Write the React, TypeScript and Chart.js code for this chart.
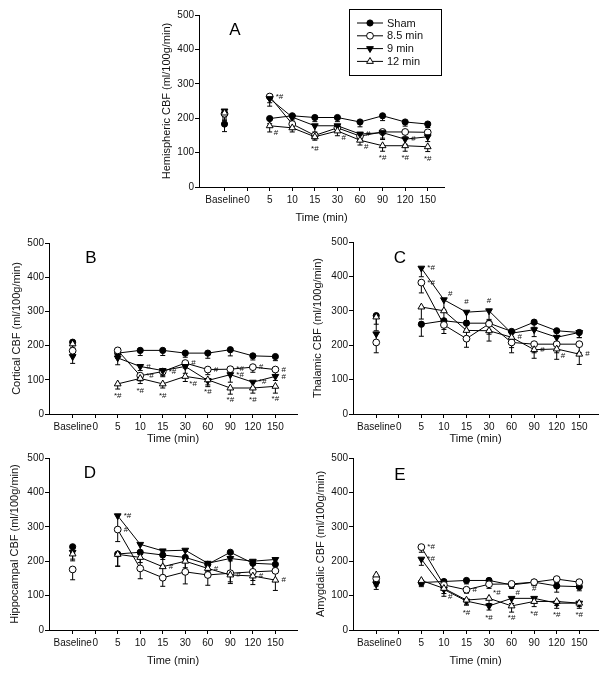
import React, { useEffect, useRef } from 'react';
import { Chart, registerables } from 'chart.js';

Chart.register(...registerables);

// ---------- DATA ----------
const xLabels = ['Baseline', '0', '5', '10', '15', '30', '60', '90', '120', '150'];
const seriesNames = ['Sham', '8.5 min', '9 min', '12 min'];

// Panel A – Hemispheric CBF
const aSham = [183, null, 199, 207, 202, 202, 189, 207, 189, 183];
const aM85 = [213, null, 263, 183, 150, 172, 148, 160, 160, 159];
const aM9 = [221, null, 257, 203, 178, 178, 154, 158, 139, 146];
const aM12 = [215, null, 178, 172, 146, 163, 136, 120, 120, 117];
const aShamErr = [22, null, 15, 12, 12, 12, 14, 14, 12, 10];
const aM85Err = [20, null, 18, 15, 10, 12, 10, 18, 14, 12];
const aM9Err = [20, null, 22, 14, 18, 16, 12, 20, 15, 14];
const aM12Err = [18, null, 18, 12, 10, 14, 14, 16, 16, 14];

// Panel B – Cortical CBF
const bSham = [210, null, 178, 186, 186, 178, 178, 188, 170, 168];
const bM85 = [185, null, 186, 112, 124, 149, 130, 131, 137, 130];
const bM9 = [168, null, 164, 139, 127, 139, 98, 115, 93, 110];
const bM12 = [205, null, 88, 104, 88, 110, 100, 76, 76, 81];
const bShamErr = [15, null, 15, 15, 15, 12, 15, 18, 12, 12];
const bM85Err = [15, null, 12, 15, 15, 15, 15, 12, 15, 15];
const bM9Err = [20, null, 20, 12, 15, 20, 18, 22, 15, 12];
const bM12Err = [15, null, 15, 15, 12, 15, 15, 18, 15, 20];

// Panel C – Thalamic CBF
const cSham = [286, null, 261, 271, 264, 264, 240, 267, 242, 237];
const cM85 = [208, null, 382, 259, 219, 262, 208, 203, 203, 203];
const cM9 = [233, null, 424, 332, 296, 300, 235, 245, 223, 237];
const cM12 = [282, null, 311, 300, 243, 242, 223, 187, 189, 174];
const cShamErr = [25, null, 35, 25, 20, 20, 15, 15, 15, 15];
const cM85Err = [30, null, 30, 25, 25, 30, 30, 25, 25, 25];
const cM9Err = [25, null, 25, 30, 25, 25, 20, 20, 20, 15];
const cM12Err = [40, null, 35, 30, 25, 30, 30, 25, 30, 30];

// Panel D – Hippocampal CBF
const dSham = [242, null, 221, 226, 218, 211, 191, 226, 194, 191];
const dM85 = [176, null, 292, 179, 152, 169, 160, 165, 169, 172];
const dM9 = [226, null, 332, 249, 230, 232, 194, 208, 200, 205];
const dM12 = [221, null, 220, 211, 184, 200, 179, 160, 157, 145];
const dShamErr = [20, null, 35, 30, 30, 30, 20, 25, 25, 25];
const dM85Err = [30, null, 35, 30, 25, 35, 30, 25, 25, 30];
const dM9Err = [20, null, 40, 30, 25, 30, 25, 35, 30, 25];
const dM12Err = [20, null, 35, 30, 25, 30, 25, 25, 25, 30];

// Panel E – Amygdalic CBF
const eSham = [140, null, 138, 141, 144, 144, 131, 139, 128, 126];
const eM85 = [150, null, 241, 131, 117, 133, 134, 139, 148, 139];
const eM9 = [133, null, 206, 118, 84, 70, 92, 92, 78, 78];
const eM12 = [160, null, 144, 121, 87, 92, 70, 83, 83, 78];
const eShamErr = [12, null, 12, 12, 10, 10, 10, 10, 18, 12];
const eM85Err = [15, null, 15, 15, 10, 12, 12, 10, 10, 10];
const eM9Err = [15, null, 18, 20, 12, 12, 15, 15, 15, 15];
const eM12Err = [15, null, 15, 15, 12, 15, 18, 15, 12, 10];

// significance marks: [series, point, text, placement]
type Note = [number, number, string, string];
const aNotes: Note[] = [
  [1, 2, '*#', 'r'], [3, 2, '#', 'rb'], [3, 4, '*#', 'b'], [3, 5, '#', 'rb'], [2, 6, '#', 'r'],
  [3, 6, '#', 'rb'], [3, 7, '*#', 'b'], [2, 8, '#', 'r'], [3, 8, '*#', 'b'], [3, 9, '*#', 'b'],
];
const bNotes: Note[] = [
  [3, 2, '*#', 'b'], [2, 3, '#', 'r'], [1, 3, '*#', 'r'], [3, 3, '*#', 'b'], [1, 4, '*#', 'r'],
  [3, 4, '*#', 'b'], [1, 5, '#', 'r'], [3, 5, '*#', 'rb'], [1, 6, '#', 'r'], [3, 6, '*#', 'b'],
  [1, 7, '*#', 'r'], [2, 7, '*#', 'r'], [3, 7, '*#', 'b'], [1, 8, '#', 'r'], [2, 8, '*#', 'r'],
  [3, 8, '*#', 'b'], [1, 9, '#', 'r'], [2, 9, '#', 'r'], [3, 9, '*#', 'b'],
];
const cNotes: Note[] = [
  [2, 2, '*#', 'r'], [1, 2, '*#', 'r'], [2, 3, '#', 'ra'], [2, 4, '#', 'a'], [2, 5, '#', 'a'],
  [3, 6, '#', 'r'], [3, 7, '#', 'r'], [3, 8, '#', 'rb'], [3, 9, '#', 'r'],
];
const dNotes: Note[] = [
  [2, 2, '*#', 'r'], [1, 2, '#', 'r'], [3, 4, '#', 'r'], [3, 6, '#', 'r'], [3, 7, '#', 'r'],
  [3, 8, '#', 'r'], [3, 9, '#', 'r'],
];
const eNotes: Note[] = [
  [1, 2, '*#', 'r'], [2, 2, '*#', 'r'], [2, 3, '#', 'rb'], [1, 4, '#', 'r'], [2, 4, '*#', 'b'],
  [3, 5, '*#', 'ra'], [2, 5, '*#', 'b'], [2, 6, '#', 'ra'], [3, 6, '*#', 'b'], [2, 7, '#', 'a'],
  [3, 7, '*#', 'b'], [2, 8, '*#', 'b'], [2, 9, '*#', 'b'],
];

// ---------- LAYOUT / STYLE ----------
const FONT = 'Liberation Sans, Arial, Helvetica, sans-serif';
const INK = '#111';

type Panel = {
  letter: string; left: number; top: number; w: number; h: number;
  area: { l: number; r: number; t: number; b: number };
  xMin: number; xMax: number; yTitle: string; yTitlePad: number; xTitlePad: number;
  letterDx: number; letterDy: number; legend: boolean;
  values: (number | null)[][]; errors: (number | null)[][]; notes: Note[];
};

const panels: Panel[] = [
  {
    letter: 'A', left: 150, top: 0, w: 300, h: 230, area: { l: 49, r: 294, t: 15, b: 187 },
    xMin: -1.13, xMax: 9.72, yTitle: 'Hemispheric CBF (ml/100g/min)', yTitlePad: 10, xTitlePad: 5,
    letterDx: 36, letterDy: 15, legend: true,
    values: [aSham, aM85, aM9, aM12], errors: [aShamErr, aM85Err, aM9Err, aM12Err], notes: aNotes,
  },
  {
    letter: 'B', left: 0, top: 230, w: 305, h: 220, area: { l: 49, r: 297, t: 13, b: 184 },
    xMin: -1.05, xMax: 9.96, yTitle: 'Cortical CBF (ml/100g/min)', yTitlePad: 10, xTitlePad: 4,
    letterDx: 42, letterDy: 15, legend: false,
    values: [bSham, bM85, bM9, bM12], errors: [bShamErr, bM85Err, bM9Err, bM12Err], notes: bNotes,
  },
  {
    letter: 'C', left: 305, top: 230, w: 305, h: 220, area: { l: 48, r: 293, t: 12, b: 184 },
    xMin: -1.03, xMax: 9.83, yTitle: 'Thalamic CBF (ml/100g/min)', yTitlePad: 6, xTitlePad: 4,
    letterDx: 47, letterDy: 16, legend: false,
    values: [cSham, cM85, cM9, cM12], errors: [cShamErr, cM85Err, cM9Err, cM12Err], notes: cNotes,
  },
  {
    letter: 'D', left: 0, top: 450, w: 305, h: 227, area: { l: 49, r: 297, t: 8, b: 180 },
    xMin: -1.05, xMax: 9.96, yTitle: 'Hippocampal CBF (ml/100g/min)', yTitlePad: 8, xTitlePad: 9,
    letterDx: 41, letterDy: 15, legend: false,
    values: [dSham, dM85, dM9, dM12], errors: [dShamErr, dM85Err, dM9Err, dM12Err], notes: dNotes,
  },
  {
    letter: 'E', left: 305, top: 450, w: 305, h: 227, area: { l: 48, r: 293, t: 8, b: 180 },
    xMin: -1.03, xMax: 9.83, yTitle: 'Amygdalic CBF (ml/100g/min)', yTitlePad: 9, xTitlePad: 9,
    letterDx: 47, letterDy: 17, legend: false,
    values: [eSham, eM85, eM9, eM12], errors: [eShamErr, eM85Err, eM9Err, eM12Err], notes: eNotes,
  },
];

const markerStyles = [
  { style: 'circle', fill: '#000', r: 3.1, rot: 0 },
  { style: 'circle', fill: '#fff', r: 3.4, rot: 0 },
  { style: 'triangle', fill: '#000', r: 3.9, rot: 180 },
  { style: 'triangle', fill: '#fff', r: 3.9, rot: 0 },
];

const PLACE: Record<string, [number, number, CanvasTextAlign]> = {
  r: [6, 0, 'left'],
  rb: [4, 7, 'left'],
  ra: [4, -6, 'left'],
  a: [0, -10, 'center'],
  b: [0, 12, 'center'],
};

function drawMarker(ctx: CanvasRenderingContext2D, si: number, x: number, y: number) {
  const m = markerStyles[si];
  ctx.beginPath();
  if (m.style === 'circle') {
    ctx.arc(x, y, m.r, 0, Math.PI * 2);
  } else {
    let rad = (m.rot * Math.PI) / 180;
    for (let k = 0; k < 3; k++) {
      const px = x + Math.sin(rad) * m.r;
      const py = y - Math.cos(rad) * m.r;
      if (k === 0) ctx.moveTo(px, py); else ctx.lineTo(px, py);
      rad += (2 * Math.PI) / 3;
    }
    ctx.closePath();
  }
  ctx.fillStyle = m.fill;
  ctx.fill();
  ctx.strokeStyle = '#000';
  ctx.lineWidth = 1;
  ctx.stroke();
}

function makeExtras(p: Panel) {
  return {
    id: 'extras' + p.letter,
    beforeDatasetsDraw(chart: any) {
      const ctx: CanvasRenderingContext2D = chart.ctx;
      const xs = chart.scales.x;
      const ys = chart.scales.y;
      ctx.save();
      ctx.strokeStyle = '#000';
      ctx.lineWidth = 1;
      p.values.forEach((vals, si) => {
        vals.forEach((v, i) => {
          const e = p.errors[si][i];
          if (v == null || e == null) return;
          const x = xs.getPixelForValue(i);
          const y1 = ys.getPixelForValue(v);
          const y2 = ys.getPixelForValue(v - e);
          ctx.beginPath();
          ctx.moveTo(x, y1);
          ctx.lineTo(x, y2);
          ctx.moveTo(x - 2.5, y2);
          ctx.lineTo(x + 2.5, y2);
          ctx.stroke();
        });
      });
      ctx.restore();
    },
    afterDatasetsDraw(chart: any) {
      const ctx: CanvasRenderingContext2D = chart.ctx;
      const xs = chart.scales.x;
      const ys = chart.scales.y;
      const ca = chart.chartArea;
      ctx.save();
      // significance marks
      ctx.fillStyle = INK;
      ctx.font = `8px ${FONT}`;
      ctx.textBaseline = 'middle';
      p.notes.forEach(([si, i, txt, pl]) => {
        const v = p.values[si][i];
        if (v == null) return;
        const [dx, dy, al] = PLACE[pl];
        ctx.textAlign = al;
        ctx.fillText(txt, xs.getPixelForValue(i) + dx, ys.getPixelForValue(v) + dy);
      });
      // panel letter
      ctx.font = `17px ${FONT}`;
      ctx.textAlign = 'center';
      ctx.fillStyle = '#000';
      ctx.fillText(p.letter, ca.left + p.letterDx, ca.top + p.letterDy);
      // legend
      if (p.legend) {
        const bx = 199, by = 9, bw = 92, bh = 66;
        ctx.strokeStyle = '#000';
        ctx.lineWidth = 1;
        ctx.strokeRect(bx + 0.5, by + 0.5, bw, bh);
        ctx.font = `11px ${FONT}`;
        ctx.textAlign = 'left';
        ctx.fillStyle = INK;
        seriesNames.forEach((name, si) => {
          const y = by + 14 + si * 12.8;
          ctx.beginPath();
          ctx.moveTo(bx + 8, y);
          ctx.lineTo(bx + 34, y);
          ctx.strokeStyle = '#000';
          ctx.stroke();
          drawMarker(ctx, si, bx + 21, y);
          ctx.fillStyle = INK;
          ctx.fillText(name, bx + 38, y + 0.5);
        });
      }
      ctx.restore();
    },
  };
}

function PanelChart({ p }: { p: Panel }) {
  const ref = useRef<HTMLCanvasElement>(null);
  useEffect(() => {
    const tickFont = { family: FONT, size: 10 };
    const titleFont = { family: FONT, size: 11 };
    const chart = new Chart(ref.current as HTMLCanvasElement, {
      type: 'line',
      data: {
        datasets: p.values.map((vals, si) => ({
          label: seriesNames[si],
          data: vals.map((v, i) => ({ x: i, y: v })),
          order: 3 - si,
          borderColor: '#000',
          borderWidth: 1,
          backgroundColor: markerStyles[si].fill,
          pointStyle: markerStyles[si].style as any,
          pointRadius: markerStyles[si].r,
          pointRotation: markerStyles[si].rot,
          pointBackgroundColor: markerStyles[si].fill,
          pointBorderColor: '#000',
          pointBorderWidth: 1,
          spanGaps: false,
          tension: 0,
          fill: false,
        })) as any,
      },
      options: {
        responsive: false,
        animation: false,
        events: [],
        layout: { padding: { top: p.area.t, right: p.w - p.area.r, left: 0, bottom: 0 } },
        plugins: {
          legend: { display: false },
          tooltip: { enabled: false },
          title: { display: false },
        },
        scales: {
          x: {
            type: 'linear',
            min: p.xMin,
            max: p.xMax,
            afterBuildTicks: (s: any) => {
              s.ticks = xLabels.map((_, i) => ({ value: i }));
            },
            afterFit: (s: any) => {
              s.height = p.h - p.area.b;
            },
            ticks: {
              callback: (v: any) => xLabels[v as number] ?? '',
              font: tickFont,
              color: INK,
              padding: 3,
              maxRotation: 0,
              minRotation: 0,
              autoSkip: false,
            },
            grid: { drawOnChartArea: false, drawTicks: true, tickLength: 4, color: '#000', tickColor: '#000' },
            border: { display: true, color: '#000', width: 1 },
            title: {
              display: true,
              text: 'Time (min)',
              font: titleFont,
              color: INK,
              padding: { top: 0, bottom: p.xTitlePad },
            },
          },
          y: {
            type: 'linear',
            min: 0,
            max: 500,
            afterFit: (s: any) => {
              s.width = p.area.l;
            },
            ticks: { stepSize: 100, font: tickFont, color: INK, padding: 1 },
            grid: { drawOnChartArea: false, drawTicks: true, tickLength: 4, color: '#000', tickColor: '#000' },
            border: { display: true, color: '#000', width: 1 },
            title: {
              display: true,
              text: p.yTitle,
              font: titleFont,
              color: INK,
              padding: { top: p.yTitlePad, bottom: 0 },
            },
          },
        },
      } as any,
      plugins: [makeExtras(p)],
    });
    return () => chart.destroy();
  }, []);
  return (
    <canvas
      ref={ref}
      width={p.w}
      height={p.h}
      style={{ position: 'absolute', left: p.left, top: p.top, width: p.w, height: p.h }}
    />
  );
}

export default function App() {
  return (
    <div style={{ position: 'absolute', left: 0, top: 0, width: 610, height: 677, background: '#fff' }}>
      {panels.map((p) => (
        <PanelChart key={p.letter} p={p} />
      ))}
    </div>
  );
}
